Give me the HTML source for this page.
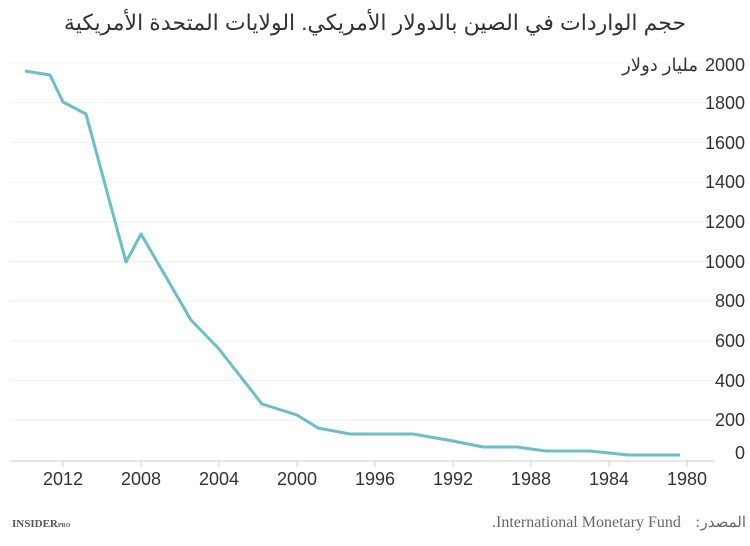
<!DOCTYPE html>
<html><head><meta charset="utf-8"><style>
body{margin:0;background:#fff;width:750px;height:541px;overflow:hidden;font-family:"Liberation Sans","Noto Sans CJK SC",sans-serif}
</style></head><body>
<svg width="750" height="541" xmlns="http://www.w3.org/2000/svg" font-family="Liberation Sans, DejaVu Sans, sans-serif">
<text x="375" y="30" text-anchor="middle" font-size="22" fill="#333" direction="rtl">حجم الواردات في الصين بالدولار الأمريكي. الولايات المتحدة الأمريكية</text>
<g stroke="#f0f0f0" stroke-width="1">
<line x1="10" x2="715" y1="63" y2="63"/><line x1="10" x2="715" y1="102.7" y2="102.7"/>
<line x1="10" x2="715" y1="142.4" y2="142.4"/><line x1="10" x2="715" y1="182.1" y2="182.1"/>
<line x1="10" x2="715" y1="221.8" y2="221.8"/><line x1="10" x2="715" y1="261.5" y2="261.5"/>
<line x1="10" x2="715" y1="301.2" y2="301.2"/><line x1="10" x2="715" y1="340.9" y2="340.9"/>
<line x1="10" x2="715" y1="380.6" y2="380.6"/><line x1="10" x2="715" y1="420.3" y2="420.3"/>
</g>
<line x1="10" x2="715" y1="461" y2="461" stroke="#ccc"/>
<g stroke="#ccc"><line x1="63" x2="63" y1="461" y2="467"/><line x1="141" x2="141" y1="461" y2="467"/><line x1="219" x2="219" y1="461" y2="467"/><line x1="297" x2="297" y1="461" y2="467"/><line x1="375" x2="375" y1="461" y2="467"/><line x1="453" x2="453" y1="461" y2="467"/><line x1="531" x2="531" y1="461" y2="467"/><line x1="609" x2="609" y1="461" y2="467"/><line x1="687" x2="687" y1="461" y2="467"/></g>
<g font-size="18" fill="#333" text-anchor="end">
<text x="745" y="71">2000</text>
<text x="745" y="109">1800</text><text x="745" y="149">1600</text><text x="745" y="188">1400</text>
<text x="745" y="228">1200</text><text x="745" y="268">1000</text><text x="745" y="307">800</text>
<text x="745" y="347">600</text><text x="745" y="387">400</text><text x="745" y="426">200</text>
<text x="745" y="459">0</text>
</g>
<text x="698" y="71" font-size="18" fill="#333" text-anchor="end">مليار دولار</text>
<g font-size="18" fill="#333" text-anchor="middle">
<text x="63" y="485">2012</text><text x="141" y="485">2008</text><text x="219" y="485">2004</text>
<text x="297" y="485">2000</text><text x="375" y="485">1996</text><text x="453" y="485">1992</text>
<text x="531" y="485">1988</text><text x="609" y="485">1984</text><text x="687" y="485">1980</text>
</g>
<polyline fill="none" stroke="#6bbfc6" stroke-width="3" stroke-linejoin="round" points="25,71 50,75 63,102 86,114 126,262 141,234 191,320 219,349 262,404 297,415 318,428 350,434 413,434 453,441 483,447 517,447 546,451 590,451 628,455 680,455"/>
<text x="12" y="527" font-size="11" font-weight="bold" fill="#555" font-family="Liberation Serif, serif">INSIDER<tspan font-size="6">PRO</tspan></text>
<text x="492" y="527" font-size="16" fill="#666" font-family="Liberation Serif, serif">.International Monetary Fund</text>
<text x="700" y="527" font-size="16" fill="#666" text-anchor="end" font-family="Liberation Serif, serif">:</text>
<text x="746" y="527" font-size="15" fill="#666" text-anchor="end" font-family="Liberation Serif, serif">المصدر</text>
</svg>
</body></html>
